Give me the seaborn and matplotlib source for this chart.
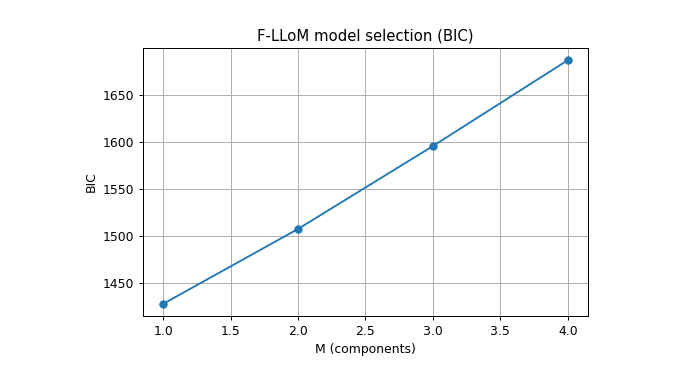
import matplotlib
matplotlib.use("Agg")
import matplotlib.pyplot as plt
import seaborn as sns
import pandas as pd

components = [1, 2, 3, 4]
bic_values = [1427.3, 1507.1, 1595.4, 1686.9]

df = pd.DataFrame({"M": components, "BIC": bic_values})

DPI = 89
fig = plt.figure(figsize=(687 / DPI, 370 / DPI), dpi=DPI)
ax = fig.add_axes([143 / 687, 1 - 316 / 370, (588 - 143) / 687, (316 - 48) / 370])
sns.lineplot(data=df, x="M", y="BIC", marker="o", color="#1f77b4",
             markersize=6, markeredgecolor="#1f77b4", linewidth=1.5, ax=ax)
ax.set_title("F-LLoM model selection (BIC)")
ax.set_xlabel("M (components)")
ax.set_ylabel("BIC")
ax.grid(True)
fig.savefig("out.png", dpi=DPI)
